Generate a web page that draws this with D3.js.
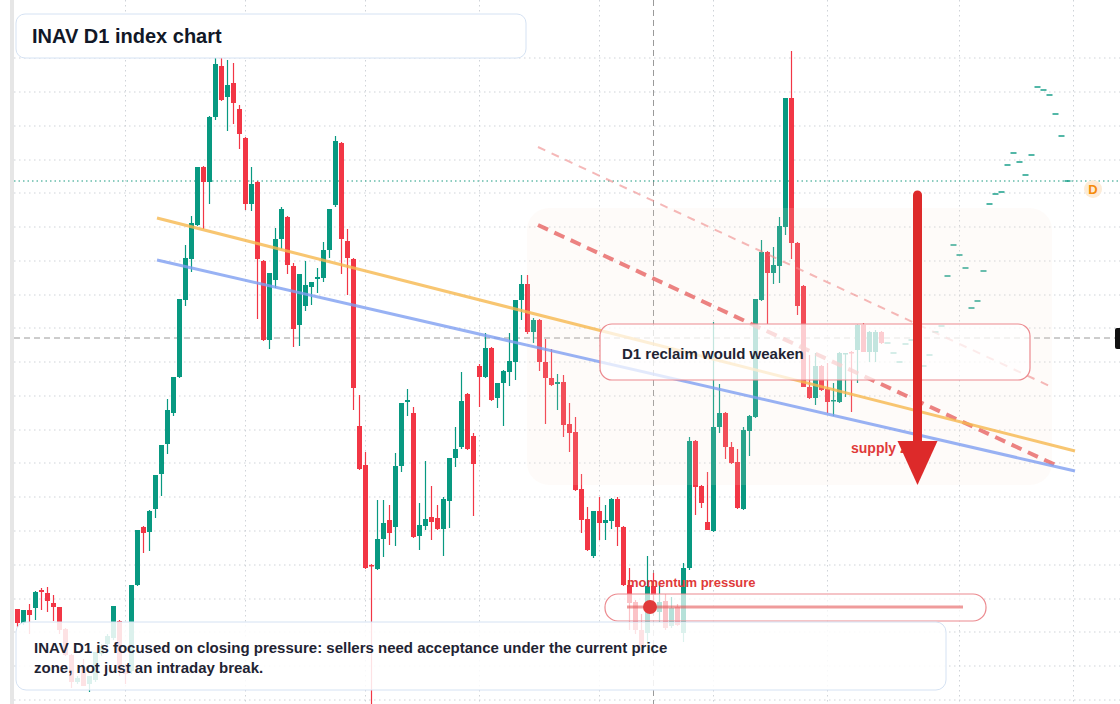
<!DOCTYPE html>
<html><head><meta charset="utf-8">
<script src="https://cdn.jsdelivr.net/npm/d3@7"></script>
<style>body{margin:0;background:#fff;font-family:"Liberation Sans",Arial,Helvetica,sans-serif}</style>
</head><body><svg id="c" width="1120" height="704"></svg>
<script>
// daily candles [open, high, low, close]
const ohlc = [
[95,95,77,81],[81,94,79,94],[94,100,70,89],[96,113,84,112],[114,116,94,112],[111,117,92,103],[101,109,83,97],[97,97,70,74],
[75,76,48,49],[49,50,16,22],[22,28,20,26],[37,45,18,18],[20,28,12,28],[24,52,22,52],[50,60,48,58],[60,70,58,68],
[66,98,64,98],[83,84,28,33],[33,40,20,30],[33,119,30,119],[119,174,118,174],[177,178,151,171],[172,194,153,193],[195,229,186,229],
[230,259,208,259],[260,305,250,294],[291,327,288,327],[327,405,326,405],[404,459,398,446],[445,488,432,481],[479,537,478,537],[537,538,475,522],
[522,588,500,587],[587,647,584,640],[638,668,603,604],[607,644,573,619],[621,641,580,601],[595,599,555,570],[566,567,494,500],[500,537,493,520],
[522,523,385,445],[443,444,363,364],[364,431,355,431],[424,476,416,465],[465,497,455,495],[487,488,430,439],[438,441,357,375],[379,430,358,430],
[398,443,393,419],[417,422,399,422],[425,436,411,427],[426,462,422,454],[454,495,446,495],[499,568,497,563],[561,562,430,465],[463,475,409,446],
[445,446,294,316],[278,309,234,235],[239,252,135,136],[139,140,0,138],[135,204,134,165],[165,204,147,181],[184,199,159,171],[177,251,158,238],
[238,301,232,301],[302,315,288,304],[291,297,166,167],[168,201,154,179],[178,243,174,185],[187,218,164,182],[186,199,174,175],[175,207,148,205],
[203,246,176,246],[246,277,237,255],[257,332,255,303],[310,311,254,255],[268,271,188,240],[338,340,297,327],[327,371,326,356],[356,357,303,304],
[306,321,296,321],[321,334,278,333],[332,371,318,343],[342,404,324,404],[404,429,384,420],[420,429,370,372],[372,386,361,384],[384,385,333,342],
[342,365,280,326],[326,355,318,319],[320,330,294,322],[322,329,267,279],[280,301,252,271],[272,287,213,214],[215,230,171,184],[185,197,153,154],
[148,193,146,193],[193,207,164,181],[181,199,164,184],[183,206,175,205],[205,207,158,177],[177,178,118,119],[119,136,74,101],[102,104,70,74],
[74,90,50,57],[71,148,60,118],[118,131,100,109],[92,119,82,102],[103,110,74,76],[78,107,76,96],[97,100,78,79],[71,141,62,136],
[136,267,134,263],[263,264,189,217],[218,219,196,201],[182,232,174,174],[173,382,172,277],[277,320,271,291],[291,292,245,257],[257,262,240,241],
[242,255,195,196],[195,277,194,274],[273,289,248,288],[287,405,286,405],[404,464,403,452],[452,453,380,431],[431,457,420,439],[438,487,421,478],
[477,606,469,606],[606,653,445,461],[461,462,389,398],[418,419,317,317],[317,349,305,306],[306,351,299,338],[338,339,313,314],[315,341,291,302],
[303,321,288,304],[302,352,301,351],[350,351,307,351],[352,353,292,351],[354,380,321,379],[379,381,352,352],[352,373,342,372],[352,374,342,372],
[372,373,360,361]
];
// projected path dashes after the last candle
const ghostStart = 145;
const ghost = [361,351,342,360,364,null,350,338,349,372,378,428,459,449,436,396,403,433,500,510,512,539,551,542,529,549,617,614,609,590,568,523];
const gridIdx = [18,38,58,77,97,116,135,157,176];
const gridPrices = [646,612,578,544,511,477,443,409,376,342,308,274,241,207,173,139,105,72,38,4];
// trend lines: [index1, price1, index2, price2]
const orangeLine = [23.25,486,176.25,253];
const blueLine = [23.25,444,176.25,233];
const redDash = [86.75,479,173,239];
const pinkDash = [86.75,557,172,318];
const refPrice = 523, crossPrice = 366, crossIdx = 106;
const arrowIdx = 150, arrowFrom = 509, arrowTo = 219;

const svg = d3.select('#c');
const x = d3.scaleLinear().domain([0, 1]).range([17.5, 23.5]);
const y = d3.scaleLinear().domain([0, 704]).range([704, 0]);
const up = '#089981', dn = '#f23645';

svg.append('rect').attr('x', 10).attr('y', 0).attr('width', 4).attr('height', 704).attr('fill', '#e6e6e6');

// grid
svg.append('g').selectAll('line').data(gridPrices).join('line')
  .attr('x1', 14).attr('x2', 1120).attr('y1', d => y(d)).attr('y2', d => y(d))
  .attr('stroke', '#cfd3d8').attr('stroke-dasharray', '1.5,3.5');
svg.append('g').selectAll('line').data(gridIdx).join('line')
  .attr('x1', d => x(d)).attr('x2', d => x(d)).attr('y1', 0).attr('y2', 704)
  .attr('stroke', '#cfd3d8').attr('stroke-dasharray', '1.5,3.5');

// crosshair
svg.append('line').attr('x1', x(crossIdx)).attr('x2', x(crossIdx)).attr('y1', 0).attr('y2', 704)
  .attr('stroke', '#9a9a9a').attr('stroke-dasharray', '6,4');
svg.append('line').attr('x1', 14).attr('x2', 1115).attr('y1', y(crossPrice)).attr('y2', y(crossPrice))
  .attr('stroke', '#9a9a9a').attr('stroke-dasharray', '6,4');
svg.append('line').attr('x1', 14).attr('x2', 1120).attr('y1', y(refPrice)).attr('y2', y(refPrice))
  .attr('stroke', '#1a9a80').attr('stroke-dasharray', '1.5,3');

// candles
const cg = svg.append('g');
cg.selectAll('line').data(ohlc).join('line')
  .attr('x1', (d, i) => x(i)).attr('x2', (d, i) => x(i))
  .attr('y1', d => y(d[1])).attr('y2', d => y(d[2]))
  .attr('stroke', d => d[3] >= d[0] ? up : dn).attr('stroke-width', 1.2);
cg.selectAll('rect').data(ohlc).join('rect')
  .attr('x', (d, i) => x(i) - 2.5).attr('width', 5)
  .attr('y', d => y(Math.max(d[0], d[3])))
  .attr('height', d => Math.max(1.5, Math.abs(y(d[0]) - y(d[3]))))
  .attr('fill', d => d[3] >= d[0] ? up : dn);

svg.append('g').selectAll('line').data(ghost).join('line')
  .filter(d => d !== null)
  .attr('x1', (d, i) => x(ghostStart + i) - 3).attr('x2', (d, i) => x(ghostStart + i) + 3)
  .attr('y1', d => y(d)).attr('y2', d => y(d))
  .attr('stroke', up).attr('stroke-width', 1.4);

// zone
svg.append('rect').attr('x', 527).attr('y', 208).attr('width', 525).attr('height', 277).attr('rx', 22)
  .attr('fill', '#f7e6d8').attr('opacity', 0.14);

function seg(l, color, w, dash, op) {
  svg.append('line').attr('x1', x(l[0])).attr('y1', y(l[1])).attr('x2', x(l[2])).attr('y2', y(l[3]))
    .attr('stroke', color).attr('stroke-width', w).attr('stroke-dasharray', dash).attr('opacity', op);
}
seg(pinkDash, '#f08a8a', 2, '8,7', 0.6);
seg(redDash, '#e65a5a', 4, '11,7', 0.75);
seg(orangeLine, '#f7b84e', 3, null, 0.8);
seg(blueLine, '#7f9ff2', 3, null, 0.8);

// reclaim callout
svg.append('rect').attr('x', 600).attr('y', 324).attr('width', 430).attr('height', 56).attr('rx', 12)
  .attr('fill', '#fff').attr('fill-opacity', 0.72).attr('stroke', '#ec8a8f').attr('stroke-width', 1.2);
svg.append('text').attr('x', 622).attr('y', 359).text('D1 reclaim would weaken')
  .attr('font-size', 15).attr('font-weight', 700).attr('fill', '#1f2433');

svg.append('text').attr('x', 851).attr('y', 453).text('supply zone')
  .attr('font-size', 14).attr('font-weight', 700).attr('fill', '#e03a3a');

// arrow
const ax = x(arrowIdx);
svg.append('line').attr('x1', ax).attr('x2', ax).attr('y1', y(arrowFrom)).attr('y2', y(arrowTo) - 40)
  .attr('stroke', '#dd2a2a').attr('stroke-width', 9).attr('stroke-linecap', 'round');
svg.append('path').attr('d', `M${ax - 20},${y(arrowTo) - 44}L${ax + 20},${y(arrowTo) - 44}L${ax},${y(arrowTo)}Z`)
  .attr('fill', '#dd2a2a');

// momentum pill
svg.append('rect').attr('x', 605).attr('y', 594).attr('width', 381).attr('height', 27).attr('rx', 13)
  .attr('fill', '#fff').attr('fill-opacity', 0.7).attr('stroke', '#ec8a8f').attr('stroke-width', 1.2);
svg.append('line').attr('x1', 627).attr('x2', 963).attr('y1', 607).attr('y2', 607)
  .attr('stroke', '#e65a5a').attr('stroke-width', 3).attr('opacity', 0.6);
svg.append('circle').attr('cx', 650).attr('cy', 607).attr('r', 7).attr('fill', '#e03a3a');
svg.append('text').attr('x', 627).attr('y', 587).text('momentum pressure')
  .attr('font-size', 13).attr('font-weight', 700).attr('fill', '#e03a3a');

// D badge
svg.append('circle').attr('cx', 1093).attr('cy', 189).attr('r', 9).attr('fill', '#fdebd5');
svg.append('text').attr('x', 1093).attr('y', 194).attr('text-anchor', 'middle').text('D')
  .attr('font-size', 13).attr('font-weight', 700).attr('fill', '#f58a0a');
svg.append('rect').attr('x', 1115).attr('y', 328).attr('width', 10).attr('height', 21).attr('rx', 2).attr('fill', '#111');

// title
svg.append('rect').attr('x', 16).attr('y', 14).attr('width', 510).attr('height', 44).attr('rx', 9)
  .attr('fill', '#fff').attr('stroke', '#d5e2f3');
svg.append('text').attr('x', 32).attr('y', 43).text('INAV D1 index chart')
  .attr('font-size', 20).attr('font-weight', 700).attr('fill', '#111827');

// note
svg.append('rect').attr('x', 16).attr('y', 622).attr('width', 930).attr('height', 68).attr('rx', 10)
  .attr('fill', '#fff').attr('fill-opacity', 0.86).attr('stroke', '#d5e2f3');
const note = svg.append('text').attr('font-size', 15).attr('font-weight', 700).attr('fill', '#1f2433');
note.append('tspan').attr('x', 34).attr('y', 653).text('INAV D1 is focused on closing pressure: sellers need acceptance under the current price');
note.append('tspan').attr('x', 34).attr('y', 673).text('zone, not just an intraday break.');
</script></body></html>
